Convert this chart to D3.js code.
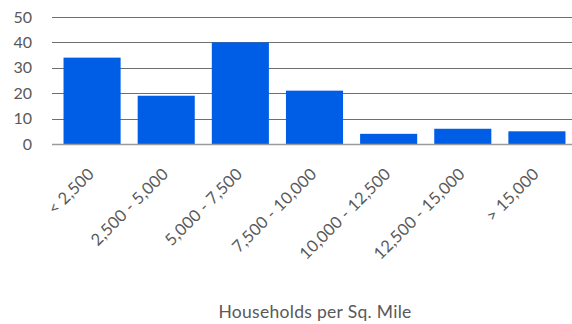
<!DOCTYPE html>
<html><head><meta charset="utf-8">
<script src="https://cdn.jsdelivr.net/npm/d3@7"></script>
<style>
html,body{margin:0;padding:0;background:#fff;}
svg{display:block;}
text{font-family:Lato,"Open Sans",sans-serif;fill:#595959;}
</style></head>
<body>
<svg id="c" width="572" height="324"></svg>
<script>
const categories = ["< 2,500","2,500 - 5,000","5,000 - 7,500","7,500 - 10,000","10,000 - 12,500","12,500 - 15,000","> 15,000"];
const values = [34, 19, 40, 21, 4, 6, 5];
const yTicks = [0, 10, 20, 30, 40, 50];
const xTitle = "Households per Sq. Mile";

const svg = d3.select("#c");
const x = d3.scaleBand().domain(categories).range([55, 574]).paddingInner(0.23).paddingOuter(0.115);
const y = d3.scaleLinear().domain([0, 50]).range([144, 17]);

// gridlines
svg.append("g").selectAll("line").data(yTicks.filter(d => d > 0)).join("line")
  .attr("x1", 52).attr("x2", 572)
  .attr("y1", d => Math.round(y(d)) + 0.5).attr("y2", d => Math.round(y(d)) + 0.5)
  .attr("stroke", "#6f6f6f").attr("stroke-width", 1);

// bars
svg.append("g").selectAll("rect").data(values).join("rect")
  .attr("x", (d, i) => x(categories[i]))
  .attr("width", x.bandwidth())
  .attr("y", d => y(d))
  .attr("height", d => y(0) - y(d))
  .attr("fill", "#005EE6");

// baseline
svg.append("line").attr("x1", 52).attr("x2", 572)
  .attr("y1", Math.round(y(0)) + 0.5).attr("y2", Math.round(y(0)) + 0.5)
  .attr("stroke", "#9a9a9a").attr("stroke-width", 1.5);

// y tick labels
svg.append("g").selectAll("text").data(yTicks).join("text")
  .attr("x", 32).attr("y", d => y(d))
  .attr("dy", "0.35em").attr("text-anchor", "end")
  .attr("font-size", 16).text(d => d);

// x labels
svg.append("g").selectAll("text").data(categories).join("text")
  .attr("transform", d => `translate(${x(d) + x.bandwidth() / 2 - 1},${171}) rotate(-45)`)
  .attr("text-anchor", "end").attr("dy", "0.35em")
  .attr("font-size", 16.5).attr("letter-spacing", 0.2).text(d => d);

// axis title
svg.append("text").attr("x", 315).attr("y", 318)
  .attr("text-anchor", "middle").attr("font-size", 17.5).attr("letter-spacing", 0.3).text(xTitle);
</script>
</body></html>
